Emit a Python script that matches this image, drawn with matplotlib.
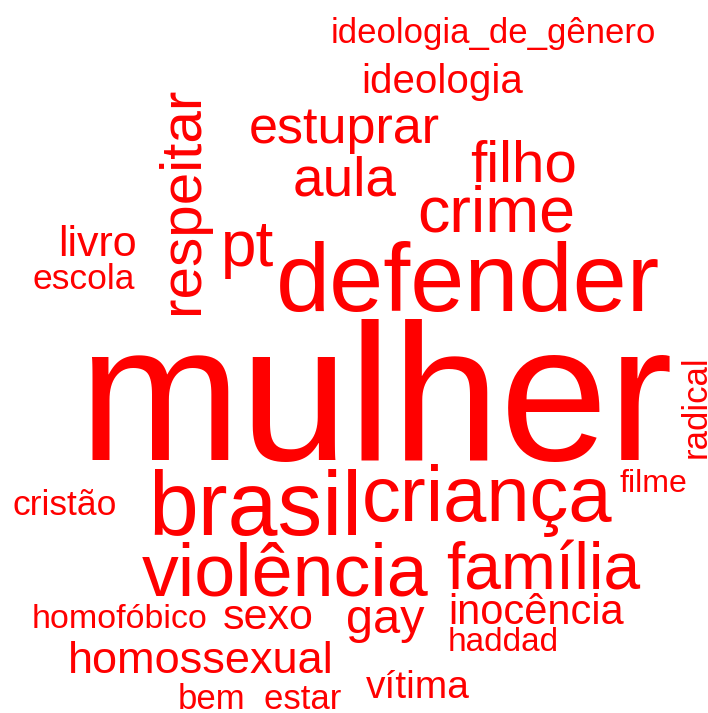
import matplotlib
matplotlib.use("Agg")
import matplotlib.pyplot as plt

plt.rcParams['font.family'] = ['Liberation Sans', 'DejaVu Sans']

# words of the cloud and their weight (used as font size in points)
words = ["mulher", "defender", "brasil", "criança", "violência", "crime",
         "família", "pt", "filho", "respeitar", "aula", "estuprar", "gay",
         "sexo", "homossexual", "inocência", "ideologia", "vítima", "livro",
         "ideologia_de_gênero", "radical", "bem_estar", "escola", "cristão",
         "haddad", "homofóbico", "filme"]
weights = [140, 70, 64.5, 56, 53, 46.5,
           47.5, 46, 42, 42, 39.5, 37.5, 35,
           31, 32.5, 30, 29, 28, 31,
           25, 25, 25, 25.5, 25.5,
           24, 24.5, 23]

# layout of the cloud: left end of the baseline (pixels) and rotation
layout = [(78, 460, 0), (276, 311, 0), (148, 535, 0), (362, 521, 0),
          (142, 596, 0), (417, 232, 0), (446, 589, 0), (221, 266, 0),
          (470, 182, 0), (198, 314, 90), (293, 195, 0), (249, 143, 0),
          (346, 633, 0), (223, 629, 0), (68, 673, 0), (448, 624, 0),
          (361, 93, 0), (366, 698, 0), (58, 256, 0), (331, 43, 0),
          (706, 458, 90), (178, 709, 0), (33, 289, 0), (12, 515, 0),
          (448, 651, 0), (32, 628, 0), (620, 492, 0)]

fig = plt.figure(figsize=(7.08, 7.13), dpi=100)
ax = fig.add_axes([0, 0, 1, 1])
ax.set_xlim(0, 708)
ax.set_ylim(713, 0)
ax.axis('off')

for word, w, (x, y, rot) in zip(words, weights, layout):
    ax.text(x, y, word, fontsize=w, color='#ff0000', rotation=rot,
            rotation_mode='anchor', ha='left', va='baseline')

fig.savefig('out.png', dpi=100, facecolor='white')
